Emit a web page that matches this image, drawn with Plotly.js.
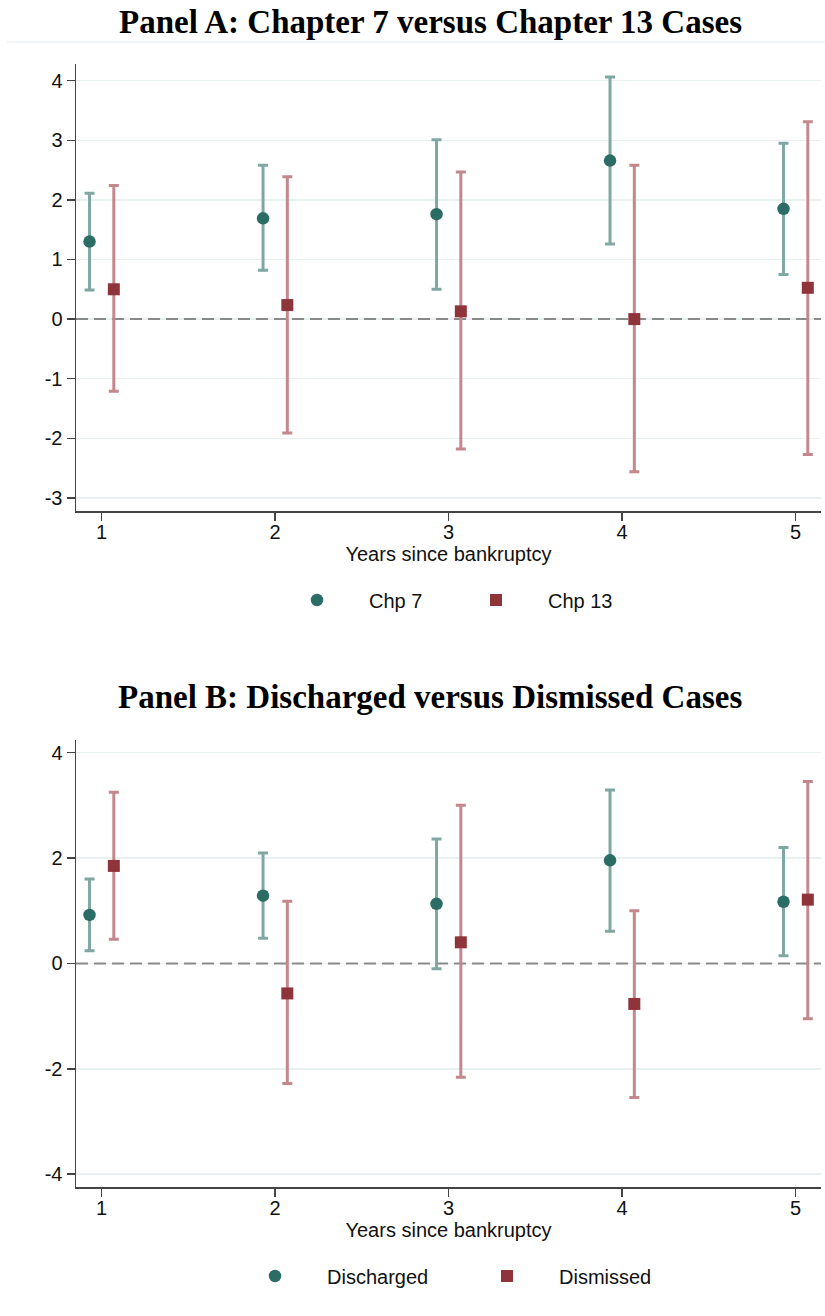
<!DOCTYPE html>
<html>
<head>
<meta charset="utf-8">
<script src="https://cdn.plot.ly/plotly-3.0.1.min.js"></script>
<style>html,body{margin:0;padding:0;background:#fff;}#chart{width:825px;height:1316px;}</style>
</head>
<body>
<div id="chart"></div>
<script>
// ---- Data ----
const years = [1, 2, 3, 4, 5];
const xTickLabels = ['1', '2', '3', '4', '5'];

// Panel A
const chp7Est   = [1.30, 1.69, 1.76, 2.66, 1.85];
const chp7Lo    = [0.49, 0.82, 0.50, 1.26, 0.75];
const chp7Hi    = [2.11, 2.58, 3.01, 4.06, 2.95];
const chp13Est  = [0.50, 0.235, 0.13, 0.00, 0.525];
const chp13Lo   = [-1.21, -1.91, -2.18, -2.56, -2.27];
const chp13Hi   = [2.24, 2.39, 2.47, 2.58, 3.31];

// Panel B
const dischEst  = [0.92, 1.285, 1.13, 1.956, 1.17];
const dischLo   = [0.24, 0.475, -0.10, 0.61, 0.145];
const dischHi   = [1.60, 2.095, 2.36, 3.29, 2.20];
const dismEst   = [1.85, -0.57, 0.40, -0.77, 1.21];
const dismLo    = [0.456, -2.28, -2.16, -2.545, -1.05];
const dismHi    = [3.25, 1.18, 3.00, 1.00, 3.45];

const yTicksA = [-3, -2, -1, 0, 1, 2, 3, 4];
const yTickLabelsA = ['-3', '-2', '-1', '0', '1', '2', '3', '4'];
const yTicksB = [-4, -2, 0, 2, 4];
const yTickLabelsB = ['-4', '-2', '0', '2', '4'];
const refLineY = 0;

// ---- Styling ----
const W = 825, H = 1316;
const xRange = [0.852, 5.146];
const tealM = '#2b6c64', tealCI = '#7fa8a2';
const redM = '#90343b', redCI = '#c3878c';
const dodge = 0.07;
const px = v => v / W;
const py = v => (H - v) / H;

function trace(est, lo, hi, side, mColor, ciColor, symbol, name, xa, ya, leg) {
  return {
    type: 'scatter', mode: 'markers', name: name,
    x: years.map(v => v + side * dodge), y: est,
    xaxis: xa, yaxis: ya, legend: leg,
    marker: {color: mColor, size: symbol === 'square' ? 12 : 12.5, symbol: symbol},
    error_y: {type: 'data', symmetric: false,
      array: hi.map((h, i) => h - est[i]),
      arrayminus: lo.map((l, i) => est[i] - l),
      color: ciColor, thickness: 3, width: 5},
    hoverinfo: 'skip'
  };
}

const dashLine = {color: '#8a8a8a', width: 2, dash: '12px,6px'};
function refLine(xa, ya) {
  return {type: 'scatter', mode: 'lines', x: xRange, y: [refLineY, refLineY],
    xaxis: xa, yaxis: ya, line: dashLine, showlegend: false, hoverinfo: 'skip'};
}

const data = [
  refLine('x', 'y'),
  trace(chp7Est, chp7Lo, chp7Hi, -1, tealM, tealCI, 'circle', 'Chp 7', 'x', 'y', 'legend'),
  trace(chp13Est, chp13Lo, chp13Hi, 1, redM, redCI, 'square', 'Chp 13', 'x', 'y', 'legend'),
  refLine('x2', 'y2'),
  trace(dischEst, dischLo, dischHi, -1, tealM, tealCI, 'circle', 'Discharged', 'x2', 'y2', 'legend2'),
  trace(dismEst, dismLo, dismHi, 1, redM, redCI, 'square', 'Dismissed', 'x2', 'y2', 'legend2')
];

const tickFont = {family: 'Liberation Sans, Arial, sans-serif', size: 20, color: '#111'};
const xCommon = {
  range: xRange, tickvals: years, ticktext: xTickLabels,
  domain: [px(76), px(821)],
  showline: true, linecolor: '#444', linewidth: 1.5,
  ticks: 'outside', ticklen: 8, tickwidth: 1.5, tickcolor: '#444',
  ticklabelstandoff: -6,
  showgrid: false, zeroline: false, tickfont: tickFont,
  title: {text: 'Years since bankruptcy', font: tickFont, standoff: 2}
};
const yCommon = {
  showline: true, linecolor: '#444', linewidth: 1.5,
  ticks: 'outside', ticklen: 8, tickwidth: 1.5, tickcolor: '#444',
  showgrid: true, gridcolor: '#e9f0f2', gridwidth: 1.5,
  zeroline: false, tickfont: tickFont
};

const legCommon = {
  orientation: 'h', yanchor: 'middle', xanchor: 'left',
  font: tickFont, itemwidth: 94, entrywidthmode: 'pixels',
  bgcolor: 'rgba(0,0,0,0)', itemclick: false, itemdoubleclick: false
};

const titleFont = {family: 'Liberation Serif, Times New Roman, serif', size: 33, color: '#000'};

const layout = {
  width: W, height: H,
  margin: {l: 0, r: 0, t: 0, b: 0},
  paper_bgcolor: '#fff', plot_bgcolor: '#fff',
  showlegend: true,
  xaxis: Object.assign({}, xCommon, {anchor: 'y'}),
  yaxis: Object.assign({}, yCommon, {domain: [py(511), py(64)], range: [-3.22, 4.28],
    tickvals: yTicksA, ticktext: yTickLabelsA, anchor: 'x'}),
  xaxis2: Object.assign({}, xCommon, {anchor: 'y2'}),
  yaxis2: Object.assign({}, yCommon, {domain: [py(1187.3), py(740)], range: [-4.25, 4.24],
    tickvals: yTicksB, ticktext: yTickLabelsB, anchor: 'x2'}),
  legend: Object.assign({}, legCommon, {x: px(265), y: py(600), entrywidth: 70}),
  legend2: Object.assign({}, legCommon, {x: px(223), y: py(1276), entrywidth: 123}),
  annotations: [
    {text: '<b>Panel A: Chapter 7 versus Chapter 13 Cases</b>', xref: 'paper', yref: 'paper',
     x: px(430), y: py(22), xanchor: 'center', yanchor: 'middle', showarrow: false, font: titleFont},
    {text: '<b>Panel B: Discharged versus Dismissed Cases</b>', xref: 'paper', yref: 'paper',
     x: px(430), y: py(697), xanchor: 'center', yanchor: 'middle', showarrow: false, font: titleFont}
  ],
  shapes: [
    {type: 'line', xref: 'paper', yref: 'paper', x0: px(7), x1: 1, y0: py(42), y1: py(42),
     line: {color: '#eef2f4', width: 1.5}}
  ]
};

Plotly.newPlot('chart', data, layout, {staticPlot: true, displayModeBar: false});
</script>
</body>
</html>
